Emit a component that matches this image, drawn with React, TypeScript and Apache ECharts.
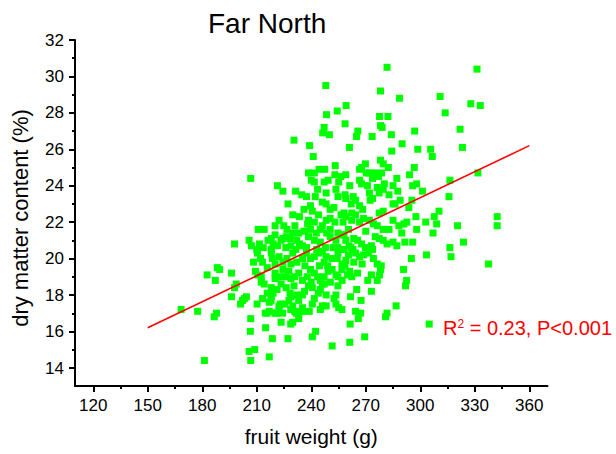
import React, { useEffect, useRef } from "react";
import * as echarts from "echarts";

const FONT = '"Liberation Sans", Arial, sans-serif';

// Scatter points [fruit weight (g), dry matter content (%)]
const outerPoints: number[][] = [
  [168.4,17.2],[177.5,17.1],[181.2,14.4],[182.7,19.1],[187.2,18.8],[186.6,16.8],[187.9,17.0],[188.3,19.5],[189.6,19.4],[196.1,19.2],
  [196.1,17.9],[197.8,20.8],[198.7,18.6],[197.8,18.4],[201.1,17.5],[203.2,17.8],[204.3,17.9],[202.2,17.7],[206.7,24.4],[205.8,21.0],
  [206.7,16.7],[206.5,16.0],[205.8,14.9],[208.9,15.0],[206.7,14.4],[210.2,17.5],[214.9,16.2],[216.9,14.6],[218.6,15.6],[227.2,15.6],
  [214.7,17.0],[215.8,17.0],[213.2,17.8],[217.9,17.7],[222.3,17.4],[223.1,17.5],[220.9,17.0],[223.4,16.5],[224.2,17.0],[228.7,16.4],
  [229.8,16.5],[231.6,17.0],[233.1,16.7],[234.2,17.1],[228.7,17.2],[238.9,17.1],[240.6,15.7],[242.4,16.0],[251.5,15.2],[261.2,15.4],
  [261.4,16.4],[269.4,15.7],[264.4,17.1],[265.9,16.7],[267.2,17.0],[267.4,17.7],[265.0,18.3],[261.6,17.9],[273.1,18.2],[271.1,18.8],
  [276.3,18.8],[277.6,19.1],[280.9,16.8],[281.7,17.0],[286.7,17.4],[291.9,18.5],[292.5,18.8],[290.8,19.4],[295.1,20.0],[295.8,20.9],
  [304.9,16.4],[303.4,20.2],[316.3,20.6],[316.9,20.1],[323.8,20.9],[320.5,21.8],[337.5,19.7],[342.3,22.3],[342.3,21.8],[331.7,24.7],
  [315.8,23.4],[316.3,24.3],[323.2,26.1],[321.9,27.1],[327.8,28.5],[333.0,28.4],[331.2,30.4],[310.9,28.9],[313.7,28.0],[306.6,25.6],
  [305.7,26.0],[298.6,26.0],[296.9,27.0],[290.0,26.3],[288.6,28.8],[281.7,30.5],[278.1,29.2],[277.6,27.8],[282.2,27.8],[278.1,27.3],
  [279.0,27.2],[284.1,26.8],[273.5,26.7],[264.9,26.7],[265.6,27.0],[259.2,28.4],[258.6,27.4],[254.3,28.1],[248.0,29.5],[248.4,27.9],
  [247.1,27.2],[246.3,26.9],[250.0,26.8],[230.5,26.5],[239.1,26.2],[241.1,25.6],[261.0,26.1],[284.3,25.9],[296.7,25.0],[294.1,24.6],
  [295.8,24.0],[298.0,24.1],[301.2,23.7],[295.4,23.2],[293.7,22.8],[297.6,22.3],[303.0,22.0],[310.3,22.6],[307.7,22.3],[309.0,21.9],
  [307.0,21.4],[298.0,21.6],[291.5,20.9],[289.8,21.4],[291.0,21.9],[292.6,22.0],
];

const clusterUpper: number[][] = [
  [247.4,24.9],[253.2,25.1],[267.7,25.0],[269.8,25.2],[278.1,25.4],[279.6,25.2],[282.4,25.0],[266.6,24.9],[270.3,24.7],[275.2,24.7],
  [287.1,24.4],[278.7,24.7],[272.0,24.7],[238.5,24.7],[241.7,24.7],[259.0,24.6],[256.2,24.5],[253.0,24.6],[244.3,24.9],[273.7,24.4],
  [277.0,24.5],
  [221.4,24.0],[224.4,23.7],[231.4,23.7],[234.8,23.5],[240.0,24.3],[241.7,24.2],[247.1,24.2],[249.3,24.3],[255.1,24.2],[261.2,24.0],
  [266.6,24.3],[267.7,24.1],[270.9,24.0],[276.3,23.9],[280.2,24.1],[279.6,23.8],[285.0,24.0],[287.6,23.7],[243.5,23.8],[248.2,23.6],
  [253.6,23.8],[258.6,23.5],[263.1,23.4],[272.0,23.6],[277.4,23.6],[282.8,23.5],[242.2,23.4],[237.4,23.4],
  [227.2,23.0],[229.8,22.4],[239.6,22.9],[240.6,22.6],[246.1,23.1],[248.2,23.0],[250.4,22.7],[252.5,22.8],[254.7,23.4],[259.0,23.3],
  [264.4,23.2],[266.6,22.9],[268.3,22.7],[272.4,23.2],[273.7,23.3],[277.4,22.5],[279.6,22.6],[285.0,23.0],[286.1,23.0],[288.9,23.2],
  [258.0,22.5],[262.3,22.5],[233.5,22.3],[244.0,22.4],[236.0,22.7],[262.0,23.0],
];

const clusterMiddle: number[][] = [
  [210.8,21.6],[214.1,21.6],[218.0,21.1],[220.1,21.8],[222.3,22.1],[226.6,21.6],[229.8,21.4],[233.1,21.4],[238.5,22.1],[241.7,22.0],
  [245.0,21.6],[246.1,21.8],[248.2,22.1],[250.4,22.2],[253.0,22.0],[256.4,22.4],[259.0,22.3],[262.3,22.1],[264.4,22.4],[266.6,22.0],
  [268.8,22.2],[272.0,22.1],[274.2,21.9],[276.3,21.8],[279.6,21.6],[282.8,21.6],[285.0,22.1],[288.2,21.8],[250.4,21.6],[254.7,21.4],
  [257.5,22.0],[260.5,21.6],[242.8,21.4],[239.6,21.6],[224.9,21.8],[220.1,21.3],[223.4,21.0],[238.0,21.9],[231.0,21.8],[270.0,21.5],
  [236.0,21.5],[258.0,21.3],[248.5,21.4],
  [211.5,20.8],[213.6,20.6],[216.2,21.0],[219.0,20.8],[224.4,21.1],[226.2,21.2],[228.3,21.1],[232.0,21.0],[233.5,20.8],[235.2,20.7],
  [238.5,21.2],[241.7,21.0],[245.0,20.9],[247.8,20.6],[250.4,21.2],[253.6,21.0],[256.9,21.3],[259.0,21.0],[260.8,20.7],[263.4,21.1],
  [265.5,21.0],[267.7,20.8],[269.8,20.6],[273.1,20.7],[275.2,21.2],[277.4,21.1],[279.6,21.0],[281.7,20.8],[285.0,20.9],[287.1,20.7],
  [221.4,20.7],[228.8,20.7],[237.4,20.6],[254.7,20.6],[261.8,20.6],[207.1,20.7],[210.0,20.5],[273.7,20.5],[243.0,20.5],[252.0,20.6],
  [257.8,20.5],[263.0,20.5],[231.5,20.5],[226.0,20.6],
  [210.4,20.3],[212.1,20.0],[213.2,19.8],[218.0,20.3],[218.6,20.0],[222.3,20.1],[224.4,19.8],[226.6,20.0],[229.8,20.3],[232.0,19.8],
  [235.2,20.0],[237.4,20.3],[239.6,20.0],[241.7,20.1],[244.3,20.3],[247.1,19.8],[248.2,20.1],[251.5,20.0],[254.3,20.0],[256.9,19.7],
  [259.0,19.9],[263.4,19.8],[264.4,20.3],[266.6,20.1],[268.8,20.2],[271.6,20.3],[274.2,20.0],[276.3,19.7],[278.5,19.6],[246.1,20.4],
  [254.7,20.3],[228.8,19.7],[220.1,19.7],[208.2,19.8],[218.0,20.5],[260.5,20.2],[249.0,19.6],[244.5,19.6],[236.5,19.6],[268.0,19.7],
];

const clusterLower: number[][] = [
  [209.3,19.3],[210.4,19.1],[212.5,19.0],[215.8,19.5],[220.1,19.2],[222.3,19.0],[224.4,19.4],[227.7,19.3],[228.8,18.9],[230.9,19.0],
  [233.1,19.2],[235.2,18.8],[237.8,19.0],[239.6,19.4],[241.7,19.2],[243.5,19.0],[245.0,18.8],[247.1,19.0],[249.3,19.3],[251.5,19.4],
  [253.6,19.1],[254.7,19.0],[256.9,19.4],[258.6,19.6],[261.2,19.3],[262.3,19.0],[265.5,19.2],[273.1,19.1],[278.1,19.4],[220.1,18.9],
  [225.5,19.0],[212.5,18.7],[260.0,19.1],[250.5,18.7],[257.0,18.8],[240.0,18.7],
  [214.1,18.6],[218.0,18.4],[219.0,18.1],[221.2,18.3],[223.4,18.6],[226.2,18.4],[228.3,18.1],[230.5,18.5],[232.0,18.0],[235.2,18.0],
  [236.3,18.2],[238.5,18.5],[240.6,18.4],[243.9,18.1],[245.0,18.3],[247.1,18.6],[248.2,18.0],[253.6,18.0],[254.7,18.5],[246.1,18.6],
  [228.8,17.9],[233.1,17.7],[252.5,17.8],[241.7,17.8],[215.8,18.1],[218.0,17.9],
  [216.9,17.6],[222.3,17.3],[225.5,17.5],[229.8,17.4],[230.9,17.1],[235.2,17.1],[240.6,17.5],[245.0,17.2],[246.1,17.4],[248.2,17.4],
  [253.6,17.5],[255.1,17.3],[256.9,17.2],[227.7,17.7],[216.9,17.1],[220.1,17.0],[233.1,16.9],[235.2,17.3],
];

// Regression line end points
const fitWeight = [150, 360];
const fitDryMatter = [16.2, 26.2];

const xTicks = { min: 120, max: 360, step: 30 };
const yTicks = { min: 14, max: 32, step: 2 };

export default function App() {
  const ref = useRef<HTMLDivElement>(null);

  useEffect(() => {
    document.body.style.margin = "0";
    if (!ref.current) return;
    const chart = echarts.init(ref.current, null, { renderer: "svg" });

    const tickStyle = { color: "#000", width: 2 };
    const allPoints = [...outerPoints, ...clusterUpper, ...clusterMiddle, ...clusterLower];

    chart.setOption({
      animation: false,
      textStyle: { fontFamily: FONT },
      title: {
        text: "Far North",
        left: 203,
        top: 4,
        textStyle: { fontSize: 28, fontWeight: "normal", color: "#000", fontFamily: FONT },
      },
      grid: [
        { left: 75, top: 40, width: 472.5, height: 346, outerBoundsMode: "none" },
        { left: 93.3, top: 40, width: 436, height: 346, outerBoundsMode: "none" },
        { left: 75, top: 40, width: 472.5, height: 328, outerBoundsMode: "none" },
      ],
      xAxis: [
        {
          gridIndex: 0, type: "value", min: 110, max: 370,
          axisLine: { show: true, onZero: false, lineStyle: tickStyle },
          axisTick: { show: false }, axisLabel: { show: false }, splitLine: { show: false },
        },
        {
          gridIndex: 1, type: "value", min: xTicks.min, max: xTicks.max, interval: xTicks.step,
          axisLine: { show: false },
          axisTick: { show: true, length: 6, lineStyle: tickStyle },
          minorTick: { show: true, splitNumber: 2, length: 3, lineStyle: tickStyle },
          axisLabel: { fontSize: 17, color: "#000", margin: 11, fontFamily: FONT },
          splitLine: { show: false }, minorSplitLine: { show: false },
          name: "fruit weight (g)", nameLocation: "middle", nameGap: 40,
          nameTextStyle: { fontSize: 21, color: "#000", fontFamily: FONT },
        },
        { gridIndex: 2, type: "value", show: false, min: 0, max: 1 },
      ],
      yAxis: [
        {
          gridIndex: 0, type: "value", min: 13, max: 32,
          axisLine: { show: true, onZero: false, lineStyle: tickStyle },
          axisTick: { show: false }, axisLabel: { show: false }, splitLine: { show: false },
        },
        { gridIndex: 1, type: "value", show: false, min: 0, max: 1 },
        {
          gridIndex: 2, type: "value", min: yTicks.min, max: yTicks.max, interval: yTicks.step,
          axisLine: { show: false },
          axisTick: { show: true, length: 6, lineStyle: tickStyle },
          minorTick: { show: true, splitNumber: 2, length: 3, lineStyle: tickStyle },
          axisLabel: { fontSize: 17, color: "#000", margin: 11, fontFamily: FONT },
          splitLine: { show: false }, minorSplitLine: { show: false },
        },
      ],
      series: [
        {
          type: "scatter", xAxisIndex: 0, yAxisIndex: 0,
          symbol: "rect", symbolSize: 7,
          itemStyle: { color: "#00ff00", opacity: 1 },
          data: allPoints,
          z: 2,
        },
        {
          type: "line", xAxisIndex: 0, yAxisIndex: 0,
          showSymbol: false, symbol: "none",
          lineStyle: { color: "#ff0000", width: 1.6 },
          data: fitWeight.map((w, i) => [w, fitDryMatter[i]]),
          z: 3,
        },
      ],
      graphic: [
        {
          type: "text", x: 20, y: 218, rotation: Math.PI / 2,
          style: {
            text: "dry matter content (%)", fontSize: 22, fontFamily: FONT,
            fill: "#000", align: "center", verticalAlign: "middle",
          },
        },
        {
          type: "text", left: 443, top: 318,
          style: {
            text: "{r|R}{s|2}{t| = 0.23, P<0.001}",
            fill: "#ff0000",
            rich: {
              r: { fontSize: 20, fontFamily: FONT, fill: "#ff0000", verticalAlign: "bottom" },
              s: { fontSize: 12, fontFamily: FONT, fill: "#ff0000", verticalAlign: "top" },
              t: { fontSize: 20, fontFamily: FONT, fill: "#ff0000", verticalAlign: "bottom" },
            },
          },
        },
      ],
    });

    return () => chart.dispose();
  }, []);

  return <div ref={ref} style={{ width: 616, height: 454 }} />;
}
